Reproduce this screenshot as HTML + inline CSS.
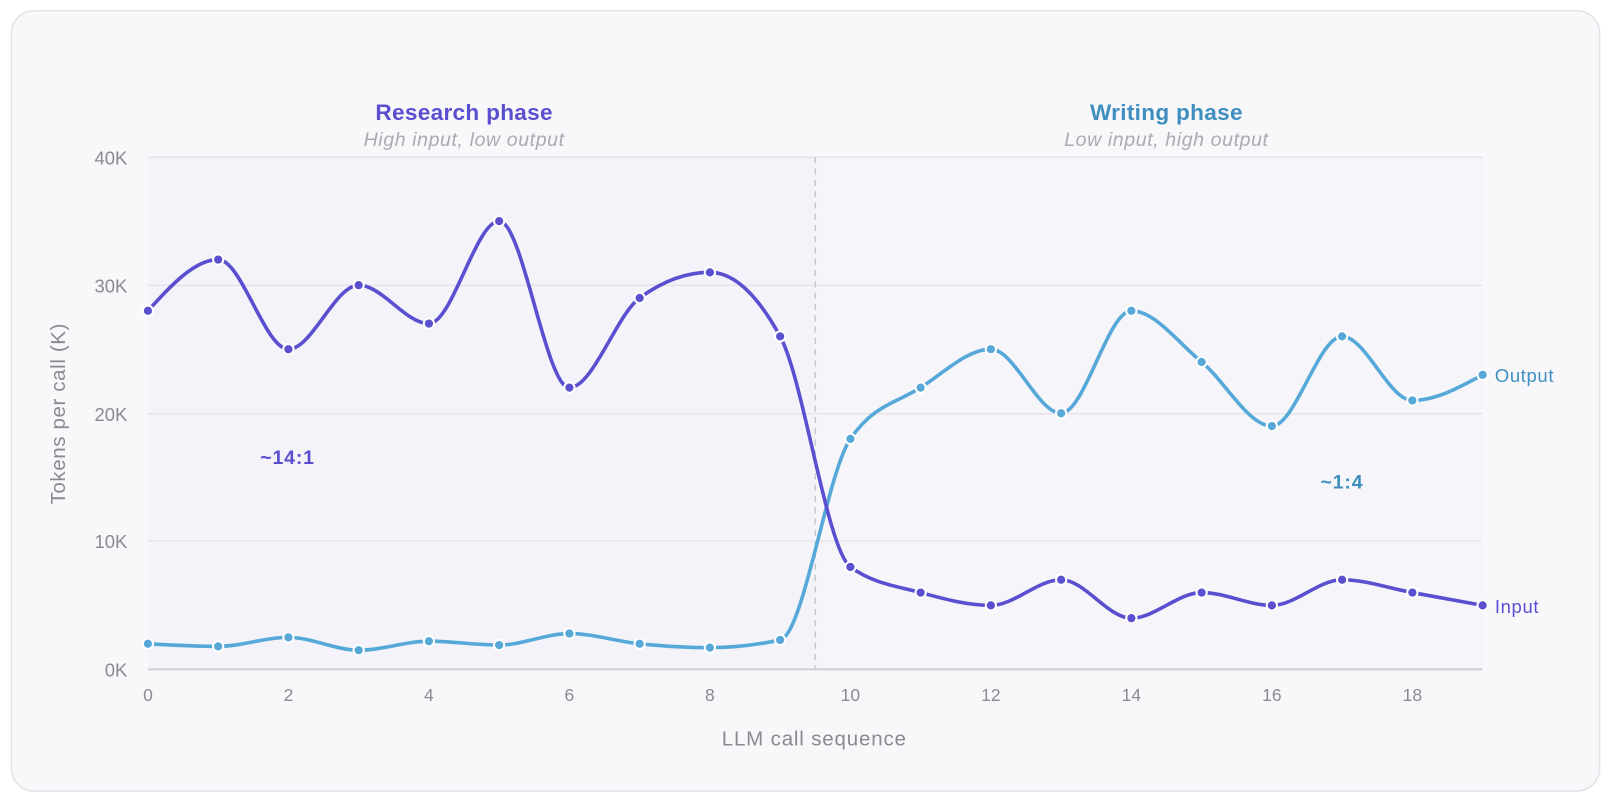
<!DOCTYPE html>
<html><head><meta charset="utf-8"><style>
html,body{margin:0;padding:0;background:#fff;width:1610px;height:808px;overflow:hidden}
svg{position:absolute;left:0;top:0}
text{font-family:"Liberation Sans",sans-serif}
</style></head><body>
<svg id="s" width="1610" height="808" viewBox="0 0 1568 787">
<rect x="11" y="10.5" width="1547" height="760" rx="22" fill="#f8f8fb" stroke="#e3e3e8" stroke-width="1.5"/>
<rect x="144" y="153" width="650" height="499" fill="#f3f3f9"/>
<rect x="794" y="153" width="650" height="499" fill="#f5f5fa"/>
<g stroke="#e2e2e8" stroke-width="1.2">
<line x1="144" x2="1444" y1="153" y2="153"/>
<line x1="144" x2="1444" y1="278" y2="278"/>
<line x1="144" x2="1444" y1="403" y2="403"/>
<line x1="144" x2="1444" y1="527" y2="527"/>
</g>
<line x1="144" x2="1444" y1="652" y2="652" stroke="#cfcfd6" stroke-width="2"/>
<line x1="794" x2="794" y1="153" y2="652" stroke="#c8c8d0" stroke-width="1.5" stroke-dasharray="6,5"/>
<g font-size="18" fill="#8a8a90" text-anchor="end">
<text x="124" y="160">40K</text><text x="124" y="285">30K</text><text x="124" y="410">20K</text><text x="124" y="534">10K</text><text x="124" y="659">0K</text>
</g>
<g id="xt" font-size="17" fill="#8a8a90" text-anchor="middle"></g>
<text x="793" y="726" font-size="20" fill="#8a8a90" text-anchor="middle" letter-spacing="0.8">LLM call sequence</text>
<text transform="translate(63,403) rotate(-90)" font-size="20" fill="#8a8a90" text-anchor="middle" letter-spacing="0.6">Tokens per call (K)</text>
<text x="452" y="117" font-size="22" font-weight="bold" fill="#5a4fcf" text-anchor="middle" letter-spacing="0.3">Research phase</text>
<text x="452" y="142" font-size="19" font-style="italic" fill="#aaaab0" text-anchor="middle" letter-spacing="0.6">High input, low output</text>
<text x="1136" y="117" font-size="22" font-weight="bold" fill="#3e8fbf" text-anchor="middle" letter-spacing="0.3">Writing phase</text>
<text x="1136" y="142" font-size="19" font-style="italic" fill="#aaaab0" text-anchor="middle" letter-spacing="0.6">Low input, high output</text>
<text x="280" y="452" font-size="19" font-weight="bold" fill="#5a4fcf" text-anchor="middle" letter-spacing="0.8">~14:1</text>
<text x="1307" y="476" font-size="19" font-weight="bold" fill="#3e8fbf" text-anchor="middle" letter-spacing="0.8">~1:4</text>
<text x="1456" y="372" font-size="18" fill="#3e8fbf" letter-spacing="0.6">Output</text>
<text x="1456" y="597" font-size="18" fill="#5a4fcf" letter-spacing="0.6">Input</text>
<g id="g"></g>
</svg>
<script>
var X=function(i){return 144+i*1300/19},Y=function(v){return 652-v*12.475};
var inp=[28,32,25,30,27,35,22,29,31,26,8,6,5,7,4,6,5,7,6,5];
var out=[2,1.8,2.5,1.5,2.2,1.9,2.8,2,1.7,2.3,18,22,25,20,28,24,19,26,21,23];
var ns="http://www.w3.org/2000/svg";
var xt=document.getElementById('xt');
for(var i=0;i<=18;i+=2){var t=document.createElementNS(ns,'text');t.setAttribute('x',X(i));t.setAttribute('y',683);t.textContent=i;xt.appendChild(t);}
function sign(x){return x<0?-1:1}
function mono(d){var n=d.length,xs=[],ys=[],s=[],m=[];for(var i=0;i<n;i++){xs.push(X(i));ys.push(Y(d[i]));}
for(i=0;i<n-1;i++)s.push((ys[i+1]-ys[i])/(xs[i+1]-xs[i]));
for(i=1;i<n-1;i++){var h0=xs[i]-xs[i-1],h1=xs[i+1]-xs[i],p=(s[i-1]*h1+s[i]*h0)/(h0+h1);m[i]=(sign(s[i-1])+sign(s[i]))*Math.min(Math.abs(s[i-1]),Math.abs(s[i]),0.5*Math.abs(p))||0;}
m[0]=(3*s[0]-m[1])/2;m[n-1]=(3*s[n-2]-m[n-2])/2;
var p='M'+xs[0]+','+ys[0];for(i=0;i<n-1;i++){var dx=(xs[i+1]-xs[i])/3;p+='C'+(xs[i]+dx)+','+(ys[i]+dx*m[i])+','+(xs[i+1]-dx)+','+(ys[i+1]-dx*m[i+1])+','+xs[i+1]+','+ys[i+1];}return p;}
var g=document.getElementById('g');
function draw(d,c){var p=document.createElementNS(ns,'path');p.setAttribute('d',mono(d));p.setAttribute('fill','none');p.setAttribute('stroke',c);p.setAttribute('stroke-width',3.5);g.appendChild(p);
for(var i=0;i<d.length;i++){var k=document.createElementNS(ns,'circle');k.setAttribute('cx',X(i));k.setAttribute('cy',Y(d[i]));k.setAttribute('r',5);k.setAttribute('fill',c);k.setAttribute('stroke','#fff');k.setAttribute('stroke-width',2);g.appendChild(k);}}
draw(out,'#56a8d8');draw(inp,'#5a4fcf');
</script>
</body></html>
